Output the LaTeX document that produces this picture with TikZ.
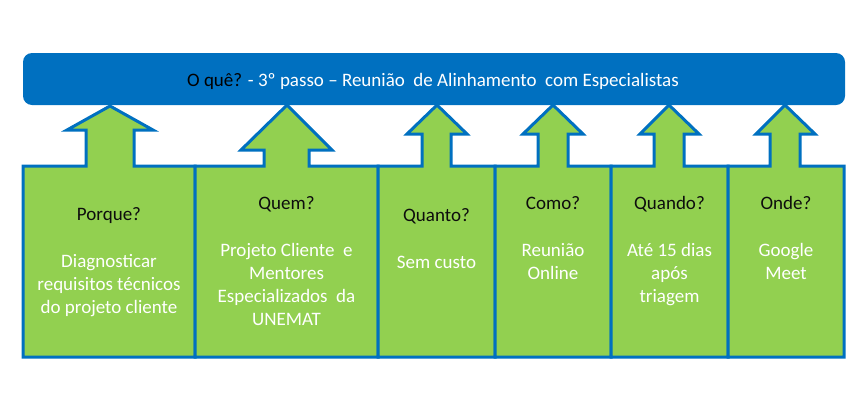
\documentclass[tikz,border=0pt]{standalone}
\usepackage{fontspec}
\setmainfont{Carlito}
\definecolor{bblue}{HTML}{0070C0}
\definecolor{bgreen}{HTML}{92D050}
\begin{document}
\begin{tikzpicture}[x=1pt,y=-1pt,
  boxshape/.style={fill=bgreen, draw=bblue, line width=3pt, line join=miter},
  hd/.style={anchor=base, inner sep=0pt, font=\fontsize{19}{23}\selectfont, text=black!95},
  bd/.style={anchor=base, inner sep=0pt, font=\fontsize{19}{23}\selectfont, text=white},
  bar/.style={fill=bblue, rounded corners=9pt, minimum width=822pt, minimum height=52pt, inner sep=0pt}]
\useasboundingbox (0,0) rectangle (867,410);
% arrow boxes
\draw[boxshape] (23,357) -- (23,166) -- (86,166) -- (86,130) -- (67,130) -- (110,106) -- (153,130) -- (134,130) -- (134,166) -- (195,166) -- (195,357) -- cycle;
\draw[boxshape] (195,357) -- (195,166) -- (264,166) -- (264,150) -- (241,150) -- (287,105) -- (332,150) -- (309,150) -- (309,166) -- (378,166) -- (378,357) -- cycle;
\draw[boxshape] (378,357) -- (378,166) -- (422,166) -- (422,134) -- (407,134) -- (437,105) -- (467,134) -- (451,134) -- (451,166) -- (495,166) -- (495,357) -- cycle;
\draw[boxshape] (495,357) -- (495,166) -- (538,166) -- (538,134) -- (523,134) -- (553,105) -- (583,134) -- (568,134) -- (568,166) -- (611,166) -- (611,357) -- cycle;
\draw[boxshape] (611,357) -- (611,166) -- (654,166) -- (654,134) -- (640,134) -- (669,105) -- (699,134) -- (684,134) -- (684,166) -- (728,166) -- (728,357) -- cycle;
\draw[boxshape] (728,357) -- (728,166) -- (770,166) -- (770,134) -- (756,134) -- (785,105) -- (815,134) -- (800,134) -- (800,166) -- (844,166) -- (844,357) -- cycle;
% top bar
\node[bar] (topbar) at (434,79) {};
\node[anchor=base, inner sep=0pt, font=\fontsize{19}{23}\selectfont, text=white] (title) at (433,86)
  {{\color{black}O quê?} - 3º passo – Reunião~ de Alinhamento~ com Especialistas};
% box 1
\node[hd] (h1) at (109,220) {Porque?};
\node[bd] (b1a) at (109,267) {Diagnosticar};
\node[bd] (b1b) at (109,290) {requisitos técnicos};
\node[bd] (b1c) at (109,313) {do projeto cliente};
% box 2
\node[hd] (h2) at (286.5,209) {Quem?};
\node[bd] (b2a) at (286.5,256) {Projeto Cliente~ e};
\node[bd] (b2b) at (286.5,279) {Mentores};
\node[bd] (b2c) at (286.5,302) {Especializados~ da};
\node[bd] (b2d) at (286.5,325) {UNEMAT};
% box 3
\node[hd] (h3) at (436.5,221) {Quanto?};
\node[bd] (b3a) at (436.5,268) {Sem custo};
% box 4
\node[hd] (h4) at (553,209) {Como?};
\node[bd] (b4a) at (553,256) {Reunião};
\node[bd] (b4b) at (553,279) {Online};
% box 5
\node[hd] (h5) at (669.5,209) {Quando?};
\node[bd] (b5a) at (669.5,256) {Até 15 dias};
\node[bd] (b5b) at (669.5,279) {após};
\node[bd] (b5c) at (669.5,302) {triagem};
% box 6
\node[hd] (h6) at (786,209) {Onde?};
\node[bd] (b6a) at (786,256) {Google};
\node[bd] (b6b) at (786,279) {Meet};
\end{tikzpicture}
\end{document}
